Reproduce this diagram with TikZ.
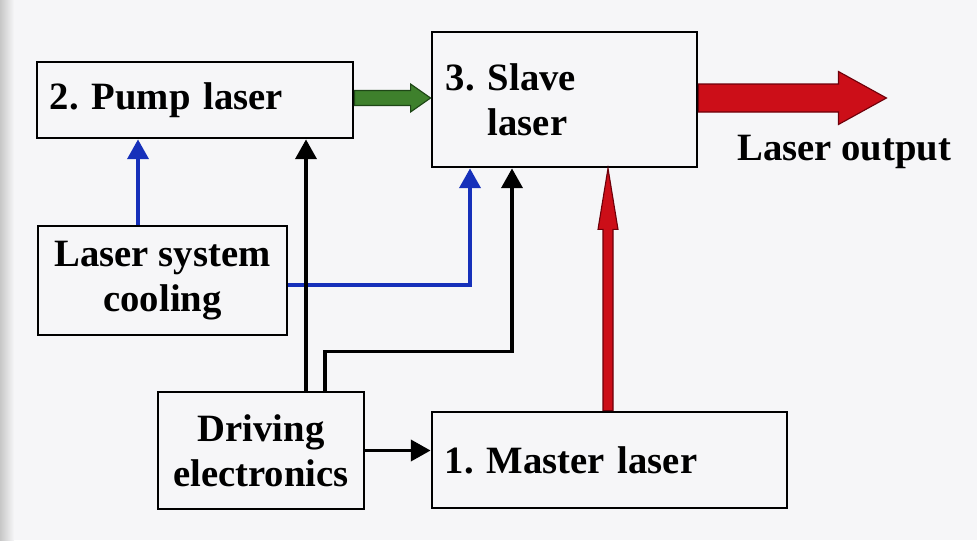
\documentclass[tikz,border=0pt]{standalone}
\usepackage{fontspec}
\setmainfont{Liberation Serif}
\usetikzlibrary{calc,arrows.meta}

\definecolor{pagebg}{RGB}{246,246,248}
\definecolor{wireblue}{RGB}{22,48,186}
\definecolor{pumpgreen}{RGB}{62,128,44}
\definecolor{pumpgreendk}{RGB}{30,70,22}
\definecolor{outred}{RGB}{204,14,24}
\definecolor{outreddk}{RGB}{110,0,10}

\frenchspacing
\begin{document}
\begin{tikzpicture}[
  x=0.025cm,y=-0.025cm,
  font=\fontsize{27.5}{32}\selectfont\bfseries,
  box/.style={rectangle,draw=black,line width=2pt,inner sep=0pt,align=center},
  lbox/.style={box,align=left,inner xsep=0.325cm},
  wire/.style={line width=2.4pt,-{Triangle[length=14pt,width=15pt]}},
  bluewire/.style={wire,wireblue},
  fatgreen/.style={fill=pumpgreen,draw=pumpgreendk,line width=0.8pt},
  fatred/.style={fill=outred,draw=outreddk,line width=0.8pt},
]
% ---------- page ----------
\fill[pagebg] (0,0) rectangle (977,540);
\shade[left color=black!22,right color=pagebg] (0,0) rectangle (14,540);

% ---------- boxes ----------
\node[lbox,minimum width=7.9cm,minimum height=1.9cm,text width=7.25cm] (pump) at (195,100) {2. Pump laser};
\node[lbox,minimum width=6.625cm,minimum height=3.375cm,text width=5.925cm,inner xsep=0.35cm] (slave) at (564.5,99.5)
  {3.~Slave\\\phantom{3.~}laser};
\node[box,minimum width=6.225cm,minimum height=2.725cm] (cool) at (162.5,280.5) {Laser system\\cooling};
\node[box,minimum width=5.15cm,minimum height=2.925cm] (drive) at (261,450.5) {Driving\\electronics};
\node[lbox,minimum width=8.875cm,minimum height=2.4cm,text width=8.225cm] (master) at (609.5,460) {1. Master laser};
\node[anchor=base west,inner sep=0pt] (outlbl) at (737,160) {Laser output};

% ---------- cooling lines ----------
\draw[bluewire] ($(cool.north)+(-24.5,0)$) coordinate (c1) -- (c1 |- pump.south);
\draw[bluewire] ($(cool.east)+(0,4.5)$) -| ($(slave.south)+(-94.5,0)$);

% ---------- electronics lines ----------
\draw[wire] ($(drive.north)+(45,0)$) coordinate (d1) -- (d1 |- pump.south);
\draw[wire] ($(drive.north)+(64,0)$) -- ++(0,-39) -| ($(slave.south)+(-52.5,0)$);
\draw[wire] (drive.east) -- (drive.east -| master.west);

% ---------- pump beam ----------
\coordinate (g0) at ($(pump.east)+(0,-2)$);
\coordinate (g1) at (g0 -| slave.west);
\draw[fatgreen] ($(g0)+(0,-7.5)$) -- ($(g1)+(-20,-7.5)$) -- ($(g1)+(-20,-14)$) -- (g1)
  -- ($(g1)+(-20,14)$) -- ($(g1)+(-20,7.5)$) -- ($(g0)+(0,7.5)$) -- cycle;

% ---------- seed beam ----------
\coordinate (m0) at ($(master.north)+(-1.5,0)$);
\coordinate (m1) at (m0 |- slave.south);
\draw[fatred] ($(m0)+(-5,0)$) -- ($(m1)+(-5,61)$) -- ($(m1)+(-10,61)$) -- (m1)
  -- ($(m1)+(10,61)$) -- ($(m1)+(5,61)$) -- ($(m0)+(5,0)$) -- cycle;

% ---------- output beam ----------
\coordinate (o0) at ($(slave.east)+(0,-1.5)$);
\coordinate (outtip) at ($(o0)+(188,0)$);
\draw[fatred] ($(o0)+(0,-14)$) -- ($(outtip)+(-48,-14)$) -- ($(outtip)+(-48,-26.5)$) -- (outtip)
  -- ($(outtip)+(-48,26.5)$) -- ($(outtip)+(-48,14)$) -- ($(o0)+(0,14)$) -- cycle;
\end{tikzpicture}
\end{document}
